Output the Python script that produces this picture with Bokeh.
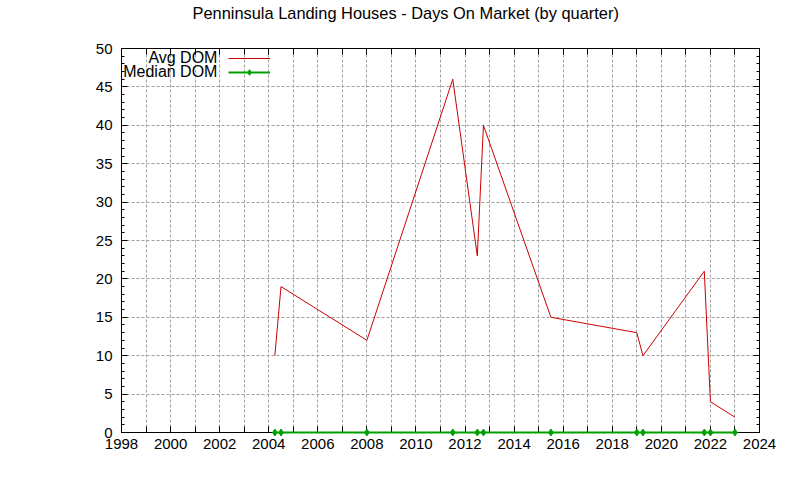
from bokeh.plotting import figure
from bokeh.models import (Range1d, LinearAxis, FixedTicker, Legend, LegendItem,
                          Label, CustomJSTickFormatter)
from bokeh.core.properties import value
from bokeh.embed import file_html
from bokeh.resources import INLINE

# ---- data ----
quarters = [2004.25, 2004.5, 2008.0, 2011.5, 2012.5, 2012.75, 2015.5,
            2019.0, 2019.25, 2021.75, 2022.0, 2023.0]
avg_dom = [10, 19, 12, 46, 23, 40, 15, 13, 10, 21, 4, 2]
median_dom = [0, 0, 0, 0, 0, 0, 0, 0, 0, 0, 0, 0]
x_major = [1998, 2000, 2002, 2004, 2006, 2008, 2010, 2012, 2014, 2016,
           2018, 2020, 2022, 2024]
x_minor = list(range(1998, 2025))
y_major = [0, 5, 10, 15, 20, 25, 30, 35, 40, 45, 50]
y_minor = list(range(0, 51))
series_names = ["Avg DOM", "Median DOM"]
title_text = "Penninsula Landing Houses - Days On Market (by quarter)"

FONT = "Liberation Sans"
GRID_COLOR = "#a0a0a0"
RED = "#cc0000"
GREEN = "#00a000"

p = figure(width=800, height=480, output_backend="svg", toolbar_location=None,
           x_range=Range1d(1998, 2024), y_range=Range1d(0, 50),
           min_border_left=121, min_border_right=41,
           min_border_top=48, min_border_bottom=48,
           background_fill_color="white", border_fill_color="white")

p.outline_line_color = "black"
p.outline_line_width = 1

# title
p.title.text = title_text
p.title.align = "left"
p.title.offset = 71
p.title.text_font = FONT
p.title.text_font_size = "16.4px"
p.title.text_font_style = "normal"
p.title.text_color = "black"
p.title.standoff = 0

# main axes
for ax in (p.xaxis[0], p.yaxis[0]):
    ax.axis_line_color = None
    ax.major_tick_out = 0
    ax.minor_tick_out = 0
    ax.major_tick_line_color = "black"
    ax.minor_tick_line_color = "black"
    ax.major_label_text_font = FONT
    ax.major_label_text_font_size = "15px"
    ax.major_label_text_color = "black"

xa = p.xaxis[0]
xa.ticker = FixedTicker(ticks=x_major, minor_ticks=x_minor)
xa.major_tick_in = 6
xa.minor_tick_in = 6
xa.major_label_standoff = 6

ya = p.yaxis[0]
ya.ticker = FixedTicker(ticks=y_major, minor_ticks=y_minor)
ya.major_tick_in = 6
ya.minor_tick_in = 3
ya.major_label_standoff = 9

# mirrored axes (top and right) with ticks only
top = LinearAxis(ticker=FixedTicker(ticks=x_major, minor_ticks=x_minor))
right = LinearAxis(ticker=FixedTicker(ticks=y_major, minor_ticks=y_minor))
for ax, mt, mi in ((top, 6, 6), (right, 6, 3)):
    ax.axis_line_color = None
    ax.major_tick_out = 0
    ax.minor_tick_out = 0
    ax.major_tick_in = mt
    ax.minor_tick_in = mi
    ax.formatter = CustomJSTickFormatter(code="return ''")
    ax.major_label_standoff = 0
    ax.major_tick_line_color = "black"
    ax.minor_tick_line_color = "black"
p.add_layout(top, "above")
p.add_layout(right, "right")

# invisible spacer above the frame, lifting the title into place
spacer = LinearAxis(ticker=FixedTicker(ticks=x_major, minor_ticks=[]))
spacer.axis_line_color = None
spacer.major_tick_in = 0
spacer.major_tick_out = 27
spacer.minor_tick_in = 0
spacer.minor_tick_out = 0
spacer.major_tick_line_color = None
spacer.minor_tick_line_color = None
spacer.formatter = CustomJSTickFormatter(code="return ''")
spacer.major_label_standoff = 0
p.add_layout(spacer, "above")

# grid
p.xgrid.ticker = FixedTicker(ticks=x_minor)
p.ygrid.ticker = FixedTicker(ticks=y_major)
for g in (p.xgrid[0], p.ygrid[0]):
    g.grid_line_color = GRID_COLOR
    g.grid_line_dash = "3 2"
    g.grid_line_width = 1

# series
r_avg = p.line(quarters, avg_dom, line_color=RED, line_width=1)
r_med = p.line(quarters, median_dom, line_color=GREEN, line_width=2.2,
               level="overlay")
r_medp = p.scatter(quarters, median_dom, marker="diamond", size=7,
                   fill_color=GREEN, line_color=GREEN, level="overlay")

# key: samples from Bokeh's legend, names as right-aligned texts on their left
legend = Legend(items=[LegendItem(label=value(""), renderers=[r_avg]),
                       LegendItem(label=value(""), renderers=[r_med, r_medp])],
                location=(107, 353), label_standoff=0,
                glyph_width=42, glyph_height=14,
                label_height=14, label_width=1, spacing=0, padding=0, margin=0,
                background_fill_alpha=0, border_line_alpha=0,
                label_text_font=FONT, label_text_font_size="1px")
p.add_layout(legend)

key_x = 2001.91
key_y = [48.85, 47.0]
for name, yy in zip(series_names, key_y):
    p.add_layout(Label(x=key_x, y=yy, text=name, text_align="right",
                       text_baseline="middle", text_font=FONT,
                       text_font_size="16px", text_color="black"))

open("out.html", "w").write(file_html(p, INLINE))
